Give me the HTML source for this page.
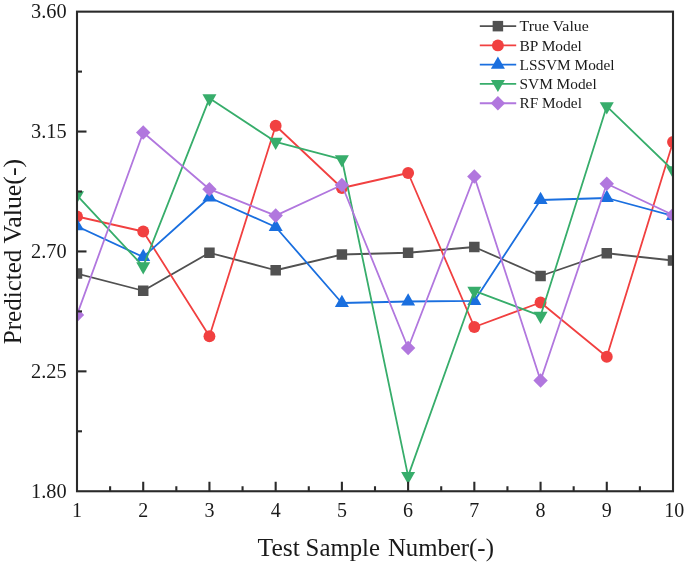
<!DOCTYPE html>
<html><head><meta charset="utf-8"><title>Chart</title>
<style>
html,body{margin:0;padding:0;background:#fff;}
body{width:685px;height:565px;overflow:hidden;font-family:"Liberation Serif",serif;}
svg{display:block;will-change:transform;font-family:"Liberation Serif",serif;}
text{fill:#1a1a1a;}
</style></head><body>
<svg width="685" height="565" viewBox="0 0 685 565">
<rect width="685" height="565" fill="#ffffff"/>
<defs><clipPath id="plot"><rect x="77.00" y="11.65" width="596.00" height="479.60"/></clipPath></defs>

<g clip-path="url(#plot)">
<polyline points="77.00,273.50 143.22,290.75 209.44,252.75 275.67,270.25 341.89,254.50 408.11,252.75 474.33,247.00 540.56,276.00 606.78,253.25 673.00,260.50" fill="none" stroke="#515151" stroke-width="1.8" stroke-linejoin="round"/>
<rect x="71.75" y="268.25" width="10.50" height="10.50" fill="#515151"/>
<rect x="137.97" y="285.50" width="10.50" height="10.50" fill="#515151"/>
<rect x="204.19" y="247.50" width="10.50" height="10.50" fill="#515151"/>
<rect x="270.42" y="265.00" width="10.50" height="10.50" fill="#515151"/>
<rect x="336.64" y="249.25" width="10.50" height="10.50" fill="#515151"/>
<rect x="402.86" y="247.50" width="10.50" height="10.50" fill="#515151"/>
<rect x="469.08" y="241.75" width="10.50" height="10.50" fill="#515151"/>
<rect x="535.31" y="270.75" width="10.50" height="10.50" fill="#515151"/>
<rect x="601.53" y="248.00" width="10.50" height="10.50" fill="#515151"/>
<rect x="667.75" y="255.25" width="10.50" height="10.50" fill="#515151"/>
<polyline points="77.00,216.50 143.22,231.50 209.44,336.25 275.67,125.75 341.89,188.00 408.11,173.00 474.33,327.00 540.56,302.50 606.78,356.75 673.00,142.00" fill="none" stroke="#F14040" stroke-width="1.8" stroke-linejoin="round"/>
<circle cx="77.00" cy="216.50" r="5.95" fill="#F14040"/>
<circle cx="143.22" cy="231.50" r="5.95" fill="#F14040"/>
<circle cx="209.44" cy="336.25" r="5.95" fill="#F14040"/>
<circle cx="275.67" cy="125.75" r="5.95" fill="#F14040"/>
<circle cx="341.89" cy="188.00" r="5.95" fill="#F14040"/>
<circle cx="408.11" cy="173.00" r="5.95" fill="#F14040"/>
<circle cx="474.33" cy="327.00" r="5.95" fill="#F14040"/>
<circle cx="540.56" cy="302.50" r="5.95" fill="#F14040"/>
<circle cx="606.78" cy="356.75" r="5.95" fill="#F14040"/>
<circle cx="673.00" cy="142.00" r="5.95" fill="#F14040"/>
<polyline points="77.00,226.30 143.22,257.00 209.44,197.50 275.67,227.00 341.89,303.00 408.11,301.50 474.33,300.90 540.56,200.00 606.78,198.00 673.00,216.00" fill="none" stroke="#1A6FDF" stroke-width="1.8" stroke-linejoin="round"/>
<path d="M70.00 230.37L84.00 230.37L77.00 218.17Z" fill="#1A6FDF"/>
<path d="M136.22 261.07L150.22 261.07L143.22 248.87Z" fill="#1A6FDF"/>
<path d="M202.44 201.57L216.44 201.57L209.44 189.37Z" fill="#1A6FDF"/>
<path d="M268.67 231.07L282.67 231.07L275.67 218.87Z" fill="#1A6FDF"/>
<path d="M334.89 307.07L348.89 307.07L341.89 294.87Z" fill="#1A6FDF"/>
<path d="M401.11 305.57L415.11 305.57L408.11 293.37Z" fill="#1A6FDF"/>
<path d="M467.33 304.97L481.33 304.97L474.33 292.77Z" fill="#1A6FDF"/>
<path d="M533.56 204.07L547.56 204.07L540.56 191.87Z" fill="#1A6FDF"/>
<path d="M599.78 202.07L613.78 202.07L606.78 189.87Z" fill="#1A6FDF"/>
<path d="M666.00 220.07L680.00 220.07L673.00 207.87Z" fill="#1A6FDF"/>
<polyline points="77.00,195.40 143.22,266.40 209.44,98.30 275.67,141.80 341.89,159.30 408.11,476.10 474.33,290.80 540.56,315.80 606.78,106.30 673.00,170.30" fill="none" stroke="#37AD6B" stroke-width="1.8" stroke-linejoin="round"/>
<path d="M70.00 191.33L84.00 191.33L77.00 203.53Z" fill="#37AD6B"/>
<path d="M136.22 262.33L150.22 262.33L143.22 274.53Z" fill="#37AD6B"/>
<path d="M202.44 94.23L216.44 94.23L209.44 106.43Z" fill="#37AD6B"/>
<path d="M268.67 137.73L282.67 137.73L275.67 149.93Z" fill="#37AD6B"/>
<path d="M334.89 155.23L348.89 155.23L341.89 167.43Z" fill="#37AD6B"/>
<path d="M401.11 472.03L415.11 472.03L408.11 484.23Z" fill="#37AD6B"/>
<path d="M467.33 286.73L481.33 286.73L474.33 298.93Z" fill="#37AD6B"/>
<path d="M533.56 311.73L547.56 311.73L540.56 323.93Z" fill="#37AD6B"/>
<path d="M599.78 102.23L613.78 102.23L606.78 114.43Z" fill="#37AD6B"/>
<path d="M666.00 166.23L680.00 166.23L673.00 178.43Z" fill="#37AD6B"/>
<polyline points="77.00,315.00 143.22,132.50 209.44,189.20 275.67,215.60 341.89,185.00 408.11,348.00 474.33,176.50 540.56,380.50 606.78,183.75 673.00,215.00" fill="none" stroke="#B177DE" stroke-width="1.8" stroke-linejoin="round"/>
<path d="M69.80 315.00L77.00 307.70L84.20 315.00L77.00 322.30Z" fill="#B177DE"/>
<path d="M136.02 132.50L143.22 125.20L150.42 132.50L143.22 139.80Z" fill="#B177DE"/>
<path d="M202.24 189.20L209.44 181.90L216.64 189.20L209.44 196.50Z" fill="#B177DE"/>
<path d="M268.47 215.60L275.67 208.30L282.87 215.60L275.67 222.90Z" fill="#B177DE"/>
<path d="M334.69 185.00L341.89 177.70L349.09 185.00L341.89 192.30Z" fill="#B177DE"/>
<path d="M400.91 348.00L408.11 340.70L415.31 348.00L408.11 355.30Z" fill="#B177DE"/>
<path d="M467.13 176.50L474.33 169.20L481.53 176.50L474.33 183.80Z" fill="#B177DE"/>
<path d="M533.36 380.50L540.56 373.20L547.76 380.50L540.56 387.80Z" fill="#B177DE"/>
<path d="M599.58 183.75L606.78 176.45L613.98 183.75L606.78 191.05Z" fill="#B177DE"/>
<path d="M665.80 215.00L673.00 207.70L680.20 215.00L673.00 222.30Z" fill="#B177DE"/>
</g>
<g stroke="#2a2a2a" stroke-width="2.1" fill="none" stroke-linecap="butt">
<rect x="77.0" y="11.65" width="596.0" height="479.6"/>
<line x1="110.11" y1="491.25" x2="110.11" y2="486.25"/>
<line x1="143.22" y1="491.25" x2="143.22" y2="481.75"/>
<line x1="176.33" y1="491.25" x2="176.33" y2="486.25"/>
<line x1="209.44" y1="491.25" x2="209.44" y2="481.75"/>
<line x1="242.56" y1="491.25" x2="242.56" y2="486.25"/>
<line x1="275.67" y1="491.25" x2="275.67" y2="481.75"/>
<line x1="308.78" y1="491.25" x2="308.78" y2="486.25"/>
<line x1="341.89" y1="491.25" x2="341.89" y2="481.75"/>
<line x1="375.00" y1="491.25" x2="375.00" y2="486.25"/>
<line x1="408.11" y1="491.25" x2="408.11" y2="481.75"/>
<line x1="441.22" y1="491.25" x2="441.22" y2="486.25"/>
<line x1="474.33" y1="491.25" x2="474.33" y2="481.75"/>
<line x1="507.44" y1="491.25" x2="507.44" y2="486.25"/>
<line x1="540.56" y1="491.25" x2="540.56" y2="481.75"/>
<line x1="573.67" y1="491.25" x2="573.67" y2="486.25"/>
<line x1="606.78" y1="491.25" x2="606.78" y2="481.75"/>
<line x1="639.89" y1="491.25" x2="639.89" y2="486.25"/>
<line x1="77.0" y1="71.60" x2="82.0" y2="71.60"/>
<line x1="77.0" y1="131.55" x2="86.5" y2="131.55"/>
<line x1="77.0" y1="191.50" x2="82.0" y2="191.50"/>
<line x1="77.0" y1="251.45" x2="86.5" y2="251.45"/>
<line x1="77.0" y1="311.40" x2="82.0" y2="311.40"/>
<line x1="77.0" y1="371.35" x2="86.5" y2="371.35"/>
<line x1="77.0" y1="431.30" x2="82.0" y2="431.30"/>
</g>
<g font-size="20">
<text x="77.00" y="517" text-anchor="middle">1</text>
<text x="143.22" y="517" text-anchor="middle">2</text>
<text x="209.44" y="517" text-anchor="middle">3</text>
<text x="275.67" y="517" text-anchor="middle">4</text>
<text x="341.89" y="517" text-anchor="middle">5</text>
<text x="408.11" y="517" text-anchor="middle">6</text>
<text x="474.33" y="517" text-anchor="middle">7</text>
<text x="540.56" y="517" text-anchor="middle">8</text>
<text x="606.78" y="517" text-anchor="middle">9</text>
<text x="674.20" y="517" text-anchor="middle">10</text>
<text x="66.6" y="18.05" text-anchor="end" textLength="35.6" lengthAdjust="spacingAndGlyphs">3.60</text>
<text x="66.6" y="137.95" text-anchor="end" textLength="35.6" lengthAdjust="spacingAndGlyphs">3.15</text>
<text x="66.6" y="257.85" text-anchor="end" textLength="35.6" lengthAdjust="spacingAndGlyphs">2.70</text>
<text x="66.6" y="377.75" text-anchor="end" textLength="35.6" lengthAdjust="spacingAndGlyphs">2.25</text>
<text x="66.6" y="497.65" text-anchor="end" textLength="35.6" lengthAdjust="spacingAndGlyphs">1.80</text>
</g>
<text x="257.6" y="556" font-size="25" textLength="42.3" lengthAdjust="spacingAndGlyphs">Test</text>
<text x="305.6" y="556" font-size="25" textLength="74.4" lengthAdjust="spacingAndGlyphs">Sample</text>
<text x="387.9" y="556" font-size="25" textLength="106.0" lengthAdjust="spacingAndGlyphs">Number(-)</text>
<text transform="translate(20.9 344.2) rotate(-90)" font-size="25" textLength="94.6" lengthAdjust="spacingAndGlyphs">Predicted</text>
<text transform="translate(20.9 243.5) rotate(-90)" font-size="25" textLength="84.6" lengthAdjust="spacingAndGlyphs">Value(-)</text>
<line x1="479.8" y1="26.15" x2="516.2" y2="26.15" stroke="#515151" stroke-width="1.8"/>
<rect x="492.65" y="20.90" width="10.50" height="10.50" fill="#515151"/>
<text x="519.5" y="31.25" font-size="15.3" textLength="69.3" lengthAdjust="spacingAndGlyphs">True Value</text>
<line x1="479.8" y1="45.42" x2="516.2" y2="45.42" stroke="#F14040" stroke-width="1.8"/>
<circle cx="497.90" cy="45.42" r="5.95" fill="#F14040"/>
<text x="519.5" y="50.52" font-size="15.3" textLength="62.4" lengthAdjust="spacingAndGlyphs">BP Model</text>
<line x1="479.8" y1="64.69" x2="516.2" y2="64.69" stroke="#1A6FDF" stroke-width="1.8"/>
<path d="M490.90 68.76L504.90 68.76L497.90 56.56Z" fill="#1A6FDF"/>
<text x="519.5" y="69.79" font-size="15.3" textLength="95.1" lengthAdjust="spacingAndGlyphs">LSSVM Model</text>
<line x1="479.8" y1="83.96" x2="516.2" y2="83.96" stroke="#37AD6B" stroke-width="1.8"/>
<path d="M490.90 79.89L504.90 79.89L497.90 92.09Z" fill="#37AD6B"/>
<text x="519.5" y="89.06" font-size="15.3" textLength="77.2" lengthAdjust="spacingAndGlyphs">SVM Model</text>
<line x1="479.8" y1="103.23" x2="516.2" y2="103.23" stroke="#B177DE" stroke-width="1.8"/>
<path d="M490.70 103.23L497.90 95.93L505.10 103.23L497.90 110.53Z" fill="#B177DE"/>
<text x="519.5" y="108.33" font-size="15.3" textLength="62.4" lengthAdjust="spacingAndGlyphs">RF Model</text>
</svg></body></html>
